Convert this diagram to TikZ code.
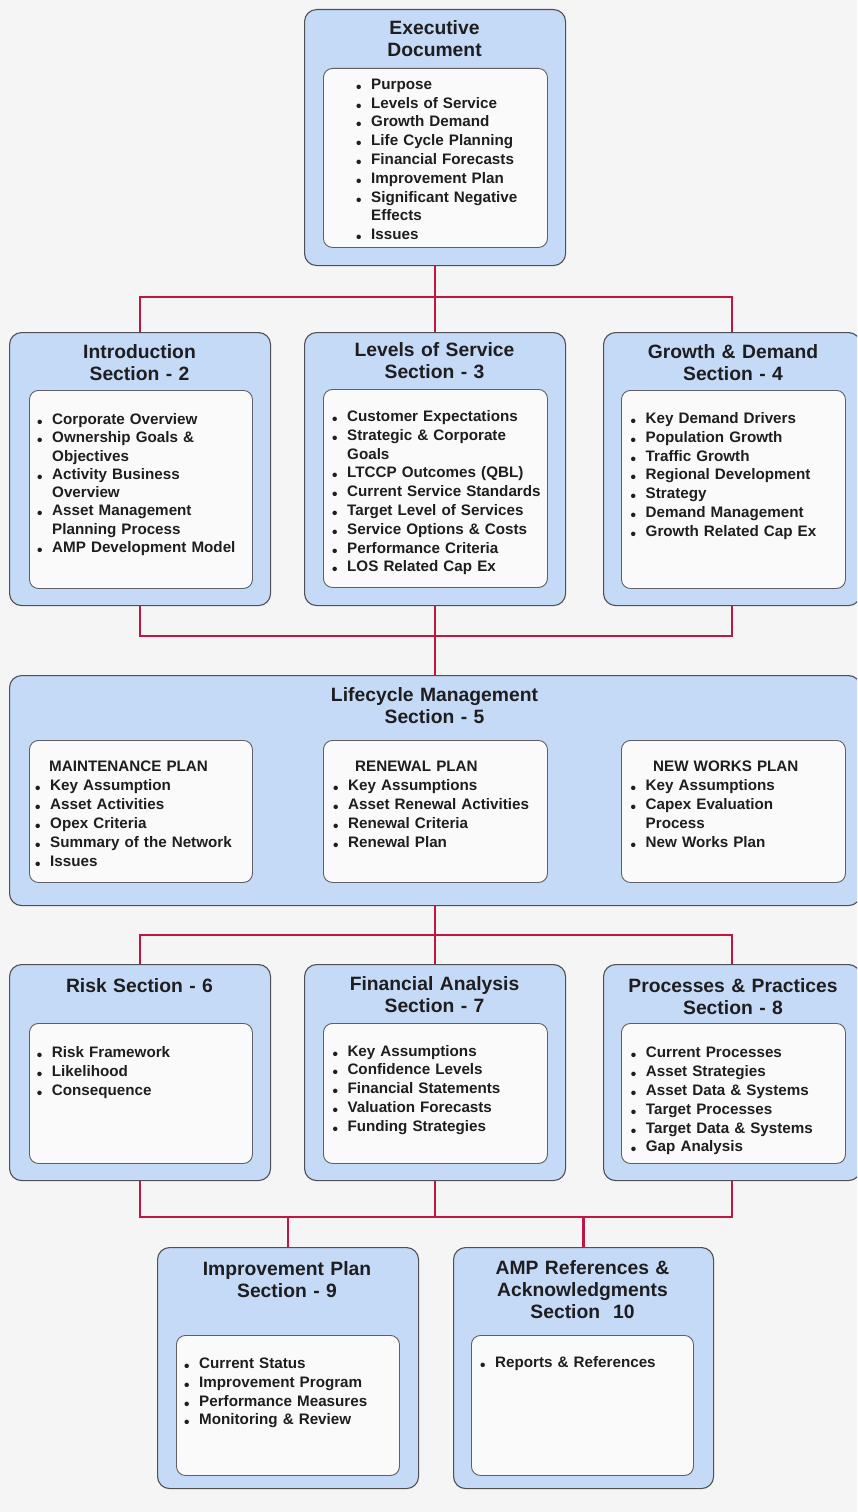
\documentclass[tikz,border=0pt]{standalone}
\usepackage{fontspec}
\usepackage{graphicx}
\setmainfont{Liberation Sans}
\usetikzlibrary{backgrounds}
\setlength{\parindent}{0pt}

\definecolor{pagebg}{RGB}{245,245,245}
\definecolor{panelblue}{RGB}{197,218,246}
\definecolor{panelline}{RGB}{80,80,84}
\definecolor{cardfill}{RGB}{250,250,250}
\definecolor{cardline}{RGB}{95,95,100}
\definecolor{linkred}{RGB}{192,22,66}
\definecolor{inkdark}{RGB}{30,30,32}

% bullet marker and continuation indent for the item lists
\newcommand\bl{\makebox[14pt][l]{\hspace*{-1pt}\raisebox{-3pt}{\fontsize{15.5}{15.5}\selectfont\textbullet}}}
\newcommand\bc{\hspace*{14pt}}

\tikzset{
  obox/.style={draw=panelline, line width=1.1pt, fill=panelblue, rounded corners=12pt, inner sep=0pt},
  ibox/.style={draw=cardline, line width=0.9pt, fill=cardfill, rounded corners=9pt, inner sep=0pt},
  title/.style={inner sep=0pt, anchor=base, align=center, text width=250pt, text=inkdark,
    font=\bfseries\fontsize{19.3}{22}\selectfont},
  items/.style={inner sep=0pt, anchor=base west, align=left, text width=225pt, text=inkdark,
    font=\bfseries\fontsize{15.2}{18.8}\selectfont},
  link/.style={draw=linkred, line width=2.4pt},
}

% \panel[style]{name}{x0}{y0}{x1}{y1}: box given by its corners
\newcommand\panel[6][obox]{%
  \node[#1, anchor=north west, minimum width=#5-#3, minimum height=#6-#4] (#2) at (#3,#4) {};}

\begin{document}
\begin{tikzpicture}[x=1pt, y=-1pt]
\useasboundingbox (0,0) rectangle (857,1512);
\begin{scope}
\clip (0,0) rectangle (857,1512);

% outer section panels
\panel{exec}{304}{9}{565}{265}
\panel{intro}{9}{332}{270}{605}
\panel{los}{304}{332}{565}{605}
\panel{growth}{603}{332}{860}{605}
\panel{life}{9}{675}{860}{905}
\panel{risk}{9}{964}{270}{1180}
\panel{fin}{304}{964}{565}{1180}
\panel{proc}{603}{964}{860}{1180}
\panel{impr}{157}{1247}{418}{1488}
\panel{amp}{453}{1247}{713}{1488}

% inner content cards
\panel[ibox]{exec-in}{323}{68}{547}{247}
\panel[ibox]{intro-in}{29}{390}{252}{588}
\panel[ibox]{los-in}{323}{389}{547}{587}
\panel[ibox]{growth-in}{621}{390}{845}{588}
\panel[ibox]{maint-in}{29}{740}{252}{882}
\panel[ibox]{renew-in}{323}{740}{547}{882}
\panel[ibox]{new-in}{621}{740}{845}{882}
\panel[ibox]{risk-in}{29}{1023}{252}{1163}
\panel[ibox]{fin-in}{323}{1023}{547}{1163}
\panel[ibox]{proc-in}{621}{1023}{845}{1163}
\panel[ibox]{impr-in}{176}{1335}{399}{1475}
\panel[ibox]{amp-in}{471}{1335}{693}{1475}

% panel headings
\node[title] (exec-t)   at (434.5,35)   {Executive\\Document};
\node[title] (intro-t)  at (139.5,358)  {Introduction\\Section - 2};
\node[title] (los-t)    at (434.5,356)  {Levels of Service\\Section - 3};
\node[title] (growth-t) at (733,358)    {Growth \& Demand\\Section - 4};
\node[title] (life-t)   at (434.5,701)  {Lifecycle Management\\Section - 5};
\node[title] (risk-t)   at (139.5,992)  {Risk Section - 6};
\node[title] (fin-t)    at (434.5,990)  {Financial Analysis\\Section - 7};
\node[title] (proc-t)   at (733,992)    {Processes \& Practices\\Section - 8};
\node[title] (impr-t)   at (287,1275)   {Improvement Plan\\Section - 9};
\node[title] (amp-t)    at (582.5,1274) {AMP References \&\\Acknowledgments\\Section~ 10};

% item lists
\node[items] (exec-l) at (357,89.3) {\bl Purpose\\\bl Levels of Service\\\bl Growth Demand\\
  \bl Life Cycle Planning\\\bl Financial Forecasts\\\bl Improvement Plan\\
  \bl Significant Negative\\\bc Effects\\\bl Issues};
\node[items, font=\bfseries\fontsize{15.2}{18.25}\selectfont] (intro-l) at (38,424.5)
  {\bl Corporate Overview\\\bl Ownership Goals \&\\\bc Objectives\\\bl Activity Business\\
  \bc Overview\\\bl Asset Management\\\bc Planning Process\\\bl AMP Development Model};
\node[items] (los-l) at (333,421.5) {\bl Customer Expectations\\\bl Strategic \& Corporate\\
  \bc Goals\\\bl LTCCP Outcomes (QBL)\\\bl Current Service Standards\\
  \bl Target Level of Services\\\bl Service Options \& Costs\\\bl Performance Criteria\\
  \bl LOS Related Cap Ex};
\node[items] (growth-l) at (631.5,423.5) {\bl Key Demand Drivers\\\bl Population Growth\\
  \bl Traffic Growth\\\bl Regional Development\\\bl Strategy\\\bl Demand Management\\
  \bl Growth Related Cap Ex};
\node[items, font=\bfseries\fontsize{15.2}{19}\selectfont] (maint-l) at (36,771.5)
  {\hspace*{13pt}MAINTENANCE PLAN\\\bl Key Assumption\\\bl Asset Activities\\
  \bl Opex Criteria\\\bl Summary of the Network\\\bl Issues};
\node[items, font=\bfseries\fontsize{15.2}{19}\selectfont] (renew-l) at (334,771.5)
  {\hspace*{21pt}RENEWAL PLAN\\\bl Key Assumptions\\\bl Asset Renewal Activities\\
  \bl Renewal Criteria\\\bl Renewal Plan};
\node[items, font=\bfseries\fontsize{15.2}{19}\selectfont] (new-l) at (631.5,771.5)
  {\hspace*{21.5pt}NEW WORKS PLAN\\\bl Key Assumptions\\\bl Capex Evaluation\\
  \bc Process\\\bl New Works Plan};
\node[items] (risk-l) at (37.7,1057.5) {\bl Risk Framework\\\bl Likelihood\\\bl Consequence};
\node[items] (fin-l) at (333.3,1056) {\bl Key Assumptions\\\bl Confidence Levels\\
  \bl Financial Statements\\\bl Valuation Forecasts\\\bl Funding Strategies};
\node[items] (proc-l) at (631.7,1057.8) {\bl Current Processes\\\bl Asset Strategies\\
  \bl Asset Data \& Systems\\\bl Target Processes\\\bl Target Data \& Systems\\
  \bl Gap Analysis};
\node[items] (impr-l) at (185,1368.5) {\bl Current Status\\\bl Improvement Program\\
  \bl Performance Measures\\\bl Monitoring \& Review};
\node[items] (amp-l) at (481,1367.5) {\bl Reports \& References};

% connector bus lines
\coordinate (bus1) at (0,297);
\coordinate (bus2) at (0,636);
\coordinate (bus3) at (0,935);
\coordinate (bus4) at (0,1217);

\begin{scope}[on background layer]
\fill[pagebg] (0,0) rectangle (857,1512);
\draw[link] (exec.south) -- (los.north);
\draw[link] (intro.north) -- (intro.north |- bus1) -- (growth.north |- bus1) -- (growth.north);
\draw[link] (intro.south) -- (intro.south |- bus2) -- (growth.south |- bus2) -- (growth.south);
\draw[link] (los.south) -- (los.south |- life.north);
\draw[link] (life.south) -- (life.south |- fin.north);
\draw[link] (risk.north) -- (risk.north |- bus3) -- (proc.north |- bus3) -- (proc.north);
\draw[link] (risk.south) -- (risk.south |- bus4) -- (proc.south |- bus4) -- (proc.south);
\draw[link] (fin.south) -- (fin.south |- bus4);
\draw[link] (impr.north) -- (impr.north |- bus4);
\draw[link] (amp.north) -- (amp.north |- bus4);
\end{scope}
\end{scope}
\end{tikzpicture}
\end{document}
